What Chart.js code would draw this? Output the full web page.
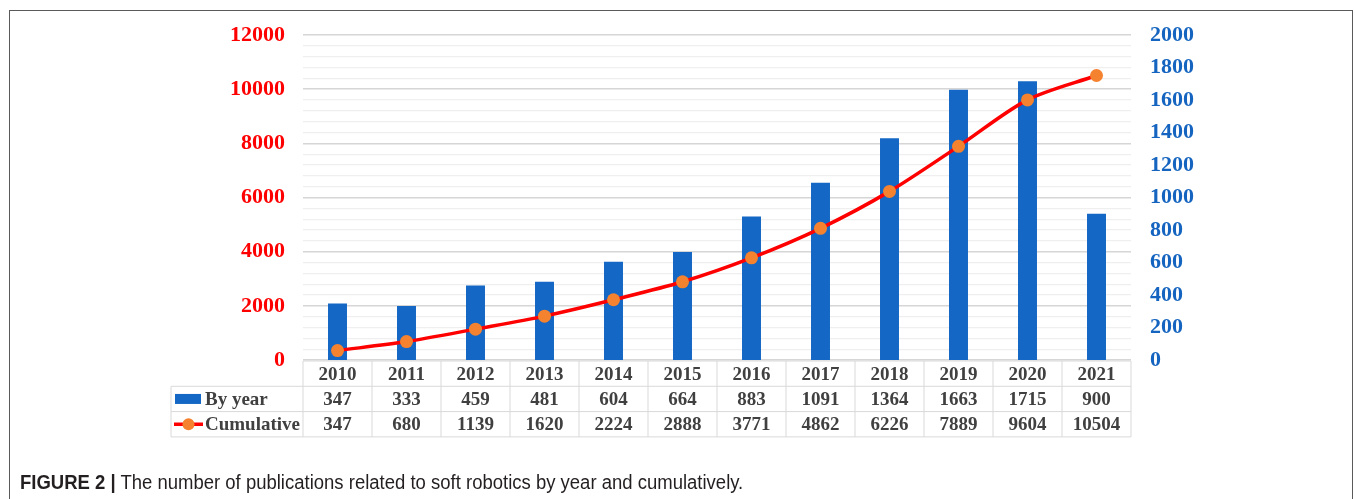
<!DOCTYPE html>
<html>
<head>
<meta charset="utf-8">
<script src="https://cdn.jsdelivr.net/npm/chart.js@4.4.1/dist/chart.umd.min.js"></script>
<style>
  html, body { margin: 0; padding: 0; background: #fff; }
  #wrap { position: relative; width: 1355px; height: 499px; overflow: hidden; }
  #frame { position: absolute; left: 9px; top: 10px; width: 1344px; height: 520px;
           border: 1px solid #5a5a5a; box-sizing: border-box; }
  #caption { position: absolute; left: 20px; top: 471px; font-family: "Liberation Sans", Arial, sans-serif;
             font-size: 20px; color: #231f20; white-space: nowrap;
             transform: scaleX(0.925); transform-origin: left top; }
  #caption b { font-weight: bold; }
  canvas { position: absolute; left: 0; top: 0; }
</style>
</head>
<body>
<div id="wrap">
  <div id="frame"></div>
  <canvas id="myChart" width="1355" height="499"></canvas>
  <div id="caption"><b>FIGURE 2 |</b> The number of publications related to soft robotics by year and cumulatively.</div>
</div>
<script>
const years = ["2010", "2011", "2012", "2013", "2014", "2015", "2016", "2017", "2018", "2019", "2020", "2021"];
const byYear = [347, 333, 459, 481, 604, 664, 883, 1091, 1364, 1663, 1715, 900];
const cumulative = [347, 680, 1139, 1620, 2224, 2888, 3771, 4862, 6226, 7889, 9604, 10504];
const leftTicks = [0, 2000, 4000, 6000, 8000, 10000, 12000];
const rightTicks = [0, 200, 400, 600, 800, 1000, 1200, 1400, 1600, 1800, 2000];

const BLUE = "#1467c4";
const RED = "#ff0000";
const ORANGE = "#f5822f";
const TEXT = "#404040";
const LINE = "#d9d9d9";

// ====== DATA TABLE UNDER THE CHART ======
const tablePlugin = {
  id: "dataTable",
  afterDraw(chart) {
    const c = chart.ctx;
    const x = chart.scales.x;
    const half = x.width / years.length / 2;
    const top = chart.chartArea.bottom + 1;
    const rowH = 25.3;
    const left = x.left;
    const right = x.right;
    const legendLeft = 171;

    c.save();
    c.strokeStyle = LINE;
    c.lineWidth = 1;
    // horizontal rules
    c.beginPath();
    c.moveTo(left, top); c.lineTo(right, top);
    c.moveTo(legendLeft, top + rowH); c.lineTo(right, top + rowH);
    c.moveTo(legendLeft, top + 2 * rowH); c.lineTo(right, top + 2 * rowH);
    c.moveTo(legendLeft, top + 3 * rowH); c.lineTo(right, top + 3 * rowH);
    // vertical rules
    c.moveTo(legendLeft, top + rowH); c.lineTo(legendLeft, top + 3 * rowH);
    years.forEach((y, i) => {
      const px = x.getPixelForValue(i) - half;
      c.moveTo(px, top); c.lineTo(px, top + 3 * rowH);
    });
    c.moveTo(right, top); c.lineTo(right, top + 3 * rowH);
    c.stroke();

    c.font = "bold 19px 'Liberation Serif', 'Times New Roman', serif";
    c.fillStyle = TEXT;
    c.textAlign = "center";
    c.textBaseline = "middle";
    years.forEach((y, i) => {
      const px = x.getPixelForValue(i);
      c.fillText(y, px, top + rowH * 0.5 + 1);
      c.fillText(String(byYear[i]), px, top + rowH * 1.5 + 1);
      c.fillText(String(cumulative[i]), px, top + rowH * 2.5 + 1);
    });

    // legend keys
    c.fillStyle = BLUE;
    c.fillRect(175, top + rowH * 1.5 - 5, 26, 10);
    c.strokeStyle = RED;
    c.lineWidth = 3.5;
    c.beginPath();
    c.moveTo(174, top + rowH * 2.5); c.lineTo(203, top + rowH * 2.5);
    c.stroke();
    c.fillStyle = ORANGE;
    c.beginPath();
    c.arc(188.5, top + rowH * 2.5, 6, 0, Math.PI * 2);
    c.fill();

    c.fillStyle = TEXT;
    c.textAlign = "left";
    c.fillText("By year", 205, top + rowH * 1.5 + 1);
    c.fillText("Cumulative", 205, top + rowH * 2.5 + 1);
    c.restore();
  }
};

function createChart() {
  return new Chart(document.getElementById("myChart"), {
    type: "bar",
    data: {
      labels: years,
      datasets: [
        {
          type: "line",
          label: "Cumulative",
          data: cumulative,
          yAxisID: "y",
          borderColor: RED,
          borderWidth: 3.5,
          tension: 0.3,
          pointRadius: 6.5,
          pointBackgroundColor: ORANGE,
          pointBorderColor: ORANGE,
          pointBorderWidth: 0,
        },
        {
          label: "By year",
          data: byYear,
          yAxisID: "y1",
          backgroundColor: BLUE,
          categoryPercentage: 1,
          barPercentage: 0.275,
        },
      ],
    },
    options: {
      responsive: false,
      animation: false,
      layout: { padding: { top: 35, bottom: 139, left: 0, right: 0 } },
      plugins: { legend: { display: false }, tooltip: { enabled: false } },
      scales: {
        x: { display: false, offset: true },
        y: {
          position: "left",
          min: 0,
          max: 12000,
          afterFit: s => { s.width = 303; },
          afterBuildTicks: s => {
            // minor grid every 400, labels only on leftTicks
            const t = [];
            for (let v = 0; v <= 12000; v += 400) t.push({ value: v });
            s.ticks = t;
          },
          border: { display: false },
          grid: {
            drawTicks: false,
            color: c => leftTicks.includes(c.tick.value) ? "#d6d6d6" : "#efefef",
            lineWidth: c => leftTicks.includes(c.tick.value) ? 1.6 : 1.3,
          },
          ticks: {
            autoSkip: false,
            padding: 18,
            color: RED,
            font: { family: "'Liberation Serif', 'Times New Roman', serif", size: 22, weight: "bold" },
            callback: v => leftTicks.includes(v) ? String(v) : "",
          },
        },
        y1: {
          position: "right",
          min: 0,
          max: 2000,
          afterFit: s => { s.width = 224; },
          afterBuildTicks: s => { s.ticks = rightTicks.map(v => ({ value: v })); },
          border: { display: false },
          grid: { display: false, drawTicks: false },
          ticks: {
            autoSkip: false,
            padding: 19,
            color: "#1565c0",
            font: { family: "'Liberation Serif', 'Times New Roman', serif", size: 22, weight: "bold" },
            callback: v => String(v),
          },
        },
      },
    },
    plugins: [tablePlugin],
  });
}

createChart();
</script>
</body>
</html>
